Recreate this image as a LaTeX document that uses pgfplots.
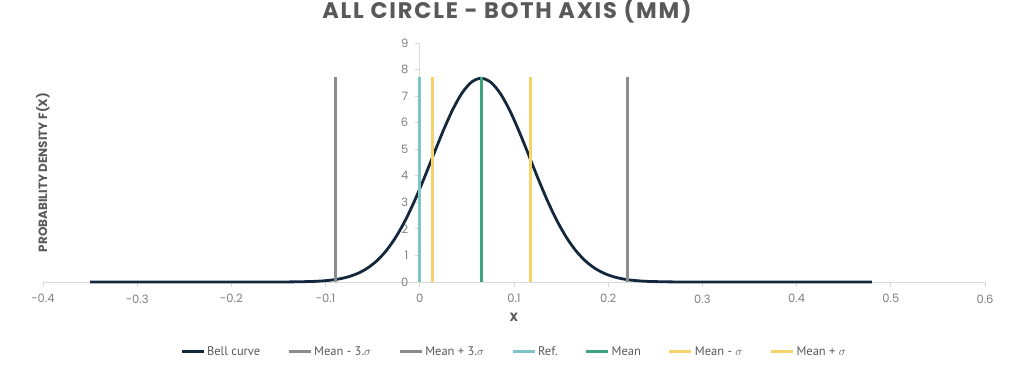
\documentclass[border=0pt]{standalone}
\usepackage{pgfplots}
\pgfplotsset{compat=1.18}
\usepackage{fontspec}
\setmainfont{Poppins}
\newfontfamily\legfont{PT Sans}
\newfontfamily\titlefont[LetterSpace=8]{Poppins}
\usetikzlibrary{calc}
\definecolor{bell}{HTML}{13283D}
\definecolor{sig3}{HTML}{8C8C8C}
\definecolor{refc}{HTML}{7EC6C6}
\definecolor{meanc}{HTML}{3FA37D}
\definecolor{sig1}{HTML}{F4D46A}
\definecolor{axisgray}{HTML}{D9D9D9}
\definecolor{titlegray}{HTML}{595959}
\definecolor{tickgray}{HTML}{808080}
\begin{document}
\begin{tikzpicture}
\begin{axis}[name=ax, scale only axis, width=942pt, height=239pt,
  xmin=-0.4, xmax=0.6, ymin=0, ymax=9,
  axis x line=bottom, axis y line=middle,
  hide obscured y ticks=false, hide obscured x ticks=false,
  x axis line style={-, color=axisgray, line width=0.8pt},
  y axis line style={-, color=axisgray, line width=0.8pt},
  xtick={-0.4,-0.3,-0.2,-0.1,0,0.1,0.2,0.3,0.4,0.5,0.6},
  ytick={0,1,2,3,4,5,6,7,8,9},
  yticklabels={0,1,2,3,4,5,6,7,8,9},
  xticklabels={-0.4,-0.3,-0.2,-0.1,0,0.1,0.2,0.3,0.4,0.5,0.6},
  tick style={color=axisgray, line width=0.8pt},
  major tick length=5pt, tick align=outside,
  /pgf/number format/assume math mode=true,
  tick label style={font=\fontsize{11.5}{13}\selectfont, color=tickgray},
  xticklabel style={yshift=-4pt},
  yticklabel style={xshift=-3pt},
  title={ALL CIRCLE - BOTH AXIS (MM)},
  title style={font=\titlefont\bfseries\fontsize{22.5}{24}\selectfont, color=titlegray,
    at={(axis description cs:0.5,1)}, anchor=center, yshift=26pt, xshift=-7pt},
  xlabel={X}, ylabel={PROBABILITY DENSITY F(X)},
  every axis x label/.style={at={(axis description cs:0.5,0)}, anchor=center,
    yshift=-35pt, font=\bfseries\fontsize{12}{14}\selectfont, color=titlegray},
  every axis y label/.style={at={(axis description cs:0,0.5)}, anchor=center,
    rotate=90, xshift=-10pt, font=\bfseries\fontsize{12}{14}\selectfont, color=titlegray},
  legend columns=7,
  legend style={at={(axis description cs:0.5,0)}, anchor=center, yshift=-70pt,
    draw=none, font=\legfont\fontsize{12.5}{14}\selectfont, text=titlegray,
    /tikz/every even column/.append style={column sep=25pt}},
  legend image code/.code={\draw[#1, line width=3pt] (0pt,0pt) -- (22pt,0pt);},
  clip=false,
]
\addplot[bell, line width=2.8pt, smooth] table {
x y
-0.35 0
-0.25 0
-0.185 0.0000
-0.155 0.0010
-0.135 0.0047
-0.115 0.0192
-0.105 0.0366
-0.095 0.0675
-0.085 0.1197
-0.075 0.2046
-0.065 0.3371
-0.055 0.5353
-0.045 0.8188
-0.035 1.2075
-0.025 1.716
-0.015 2.349
-0.005 3.100
0.005 3.943
0.015 4.832
0.025 5.707
0.035 6.496
0.045 7.125
0.055 7.531
0.065 7.672
0.075 7.531
0.085 7.125
0.095 6.496
0.105 5.707
0.115 4.832
0.125 3.943
0.135 3.100
0.145 2.349
0.155 1.716
0.165 1.2075
0.175 0.8188
0.185 0.5353
0.195 0.3371
0.205 0.2046
0.215 0.1197
0.225 0.0675
0.235 0.0366
0.245 0.0192
0.265 0.0047
0.285 0.0010
0.315 0.0000
0.38 0
0.48 0
};
\addlegendentry{Bell curve}
\addplot[sig3, line width=3pt] coordinates {(-0.089,0) (-0.089,7.72)};
\addlegendentry{Mean - 3.$\sigma$}
\addplot[sig3, line width=3pt] coordinates {(0.221,0) (0.221,7.72)};
\addlegendentry{Mean + 3.$\sigma$}
\addplot[refc, line width=3pt] coordinates {(0,0) (0,7.72)};
\addlegendentry{Ref.}
\addplot[meanc, line width=3pt] coordinates {(0.066,0) (0.066,7.72)};
\addlegendentry{Mean}
\addplot[sig1, line width=3pt] coordinates {(0.013,0) (0.013,7.72)};
\addlegendentry{Mean - $\sigma$}
\addplot[sig1, line width=3pt] coordinates {(0.118,0) (0.118,7.72)};
\addlegendentry{Mean + $\sigma$}
\end{axis}
\pgfresetboundingbox
\path ($(ax.south west)+(-43pt,-91pt)$) rectangle ($(ax.north east)+(39pt,43pt)$);
\end{tikzpicture}
\end{document}
